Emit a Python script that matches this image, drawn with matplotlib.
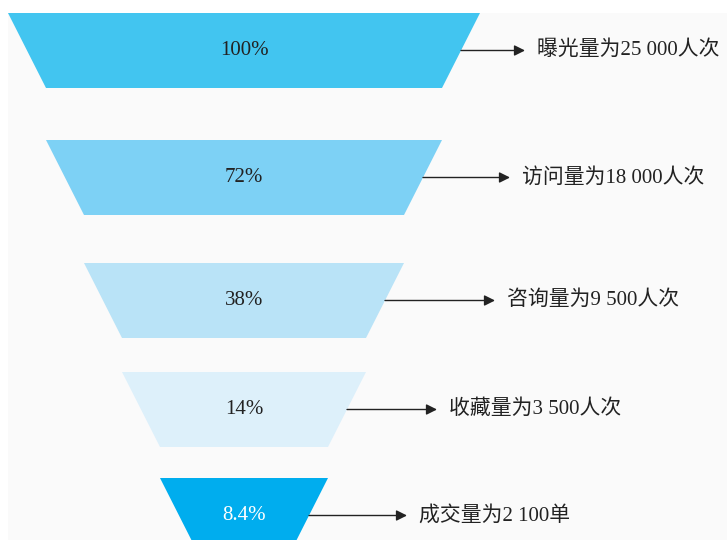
"""Conversion funnel: exposure -> visit -> inquiry -> favourite -> deal."""
import matplotlib.pyplot as plt
from matplotlib.patches import Polygon, Rectangle

plt.rcParams["font.family"] = ["Liberation Serif", "Noto Sans CJK SC"]

stages = ["曝光量为25 000人次", "访问量为18 000人次", "咨询量为9 500人次",
          "收藏量为3 500人次", "成交量为2 100单"]
rates = ["100%", "72%", "38%", "14%", "8.4%"]
colors = ["#42c5f0", "#7dd1f5", "#b9e3f7", "#ddf0fa", "#00adee"]
text_colors = ["#222222", "#222222", "#222222", "#222222", "white"]

# layout (pixel units, y down)
TOPS = [13, 140, 263, 372, 478]
HEIGHT = 75
CX = 244
TOP_W0 = 472
STEP_W = 76
ARROW_END = [525, 510, 495, 437, 407]

fig = plt.figure(figsize=(7.27, 5.40), dpi=100)
ax = fig.add_axes([0, 0, 1, 1])
ax.set_xlim(0, 727)
ax.set_ylim(540, 0)
ax.axis("off")

ax.add_patch(Rectangle((8, 13), 727, 540, facecolor="#fafafa", edgecolor="none", zorder=0))

for i, (lab, rate) in enumerate(zip(stages, rates)):
    top = TOPS[i]
    wt = TOP_W0 - STEP_W * i
    wb = wt - STEP_W
    pts = [(CX - wt / 2, top), (CX + wt / 2, top),
           (CX + wb / 2, top + HEIGHT), (CX - wb / 2, top + HEIGHT)]
    ax.add_patch(Polygon(pts, closed=True, facecolor=colors[i], edgecolor="none", zorder=2))
    ym = top + HEIGHT / 2
    ax.text(CX, ym, rate, ha="center", va="center", fontsize=15,
            color=text_colors[i], zorder=3)
    x0 = CX + (wt + wb) / 4
    ax.annotate("", xy=(ARROW_END[i], ym), xytext=(x0, ym),
                arrowprops=dict(arrowstyle="-|>", color="#222222", lw=1.0,
                                mutation_scale=16, shrinkA=0, shrinkB=0), zorder=3)
    ax.text(ARROW_END[i] + 12, ym, lab, ha="left", va="center", fontsize=15,
            color="#222222", zorder=3)

fig.savefig("out.png", dpi=100)
